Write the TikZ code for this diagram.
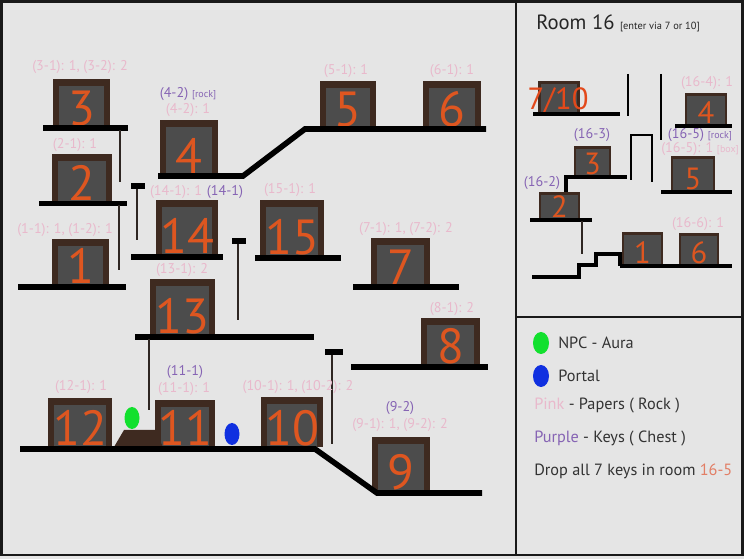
\documentclass[tikz,border=0pt]{standalone}
\usepackage{fontspec}
\setmainfont{PT Sans}
\definecolor{bgc}{HTML}{E5E5E5}
\definecolor{pinkc}{HTML}{E9B9CC}
\definecolor{purpc}{HTML}{8664B4}
\definecolor{orc}{HTML}{DE5620}
\definecolor{doorout}{HTML}{3E2A20}
\definecolor{doorin}{HTML}{4C4C4C}
\definecolor{polec}{HTML}{2E2622}
\definecolor{npcg}{HTML}{12E02E}
\definecolor{portb}{HTML}{1030E0}
\tikzset{
  plat/.style={line width=4.2pt,black,line join=miter},
  platthin/.style={line width=2.6pt,black,line join=miter},
  pole/.style={line width=2.2pt,polec},
  polecap/.style={line width=4pt,black},
  pk/.style={text=pinkc,font=\fontsize{10.6}{11}\selectfont,inner sep=0pt},
  pu/.style={text=purpc,font=\fontsize{10.6}{11}\selectfont,inner sep=0pt},
  txt/.style={text=black!80,font=\fontsize{12.2}{13}\selectfont,inner sep=0pt,anchor=west},
  num/.style={text=orc,inner sep=0pt,anchor=base},
}
\newcommand{\door}[7]{%
  \fill[doorout] (#2,#3) rectangle (#4,#5);
  \fill[doorin] (#2+6,#3+7) rectangle (#4-6,#5);
  \node[num,font=\fontsize{#7}{#7}\selectfont] (#1) at ({(#2+#4)/2},#5-1) {#6};
}
\newcommand{\sdoor}[7]{%
  \fill[doorout] (#2,#3) rectangle (#4,#5);
  \fill[doorin] (#2+2,#3+3) rectangle (#4-2,#5);
  \node[num,font=\fontsize{#7}{#7}\selectfont] (#1) at ({(#2+#4)/2},#5-1) {#6};
}
\begin{document}
\begin{tikzpicture}[x=0.75pt,y=-0.75pt]
\useasboundingbox (0,0) rectangle (744,559);
\fill[bgc] (0,0) rectangle (744,559);
% frame
\draw[line width=2.2pt,black!90] (1.5,1.5) rectangle (742.5,555);
\draw[line width=1.8pt,black!90] (516,0) -- (516,555);
\draw[line width=1.8pt,black!90] (516,317) -- (744,317);
% doors main
\door{d3}{53}{79}{110}{127}{3}{37}
\door{d2}{52}{154}{112}{202}{2}{37}
\door{d1}{52}{239}{109}{285}{1}{37}
\door{d4}{160}{120}{218}{175}{4}{37}
\door{d14}{156}{200}{218}{255}{14}{37}
\door{d5}{320}{81}{376}{128}{5}{37}
\door{d6}{423}{81}{481}{128}{6}{37}
\door{d15}{260}{200}{324}{256}{15}{37}
\door{d7}{371}{238}{430}{286}{7}{37}
\door{d13}{150}{279}{215}{335}{13}{37}
\door{d8}{421}{318}{480}{365}{8}{37}
\door{d12}{48}{398}{112}{447}{12}{37}
\door{d11}{155}{400}{215}{447}{11}{37}
\door{d10}{261}{397}{323}{447}{10}{37}
\door{d9}{372}{437}{430}{491}{9}{37}
% mound
\fill[doorout] (114,447) -- (124,430) -- (155,430) -- (163,447) -- cycle;
% platforms
\draw[plat] (43,128) -- (128,128);
\draw[plat] (39,203.5) -- (127,203.5);
\draw[plat] (18,287) -- (126,287);
\draw[plat] (158,176) -- (243,176) -- (305,129) -- (486,129);
\draw[plat] (131,257) -- (223,257);
\draw[plat] (255,258) -- (341,258);
\draw[plat] (353,287) -- (459,287);
\draw[plat] (135,337) -- (314,337);
\draw[plat] (351,367) -- (488,367);
\draw[plat] (20,449) -- (315,449) -- (377,493) -- (482,493);
% poles
\draw[pole] (120,130) -- (120,182);
\draw[pole] (119,205) -- (119,270);
\draw[pole] (137,186) -- (137,240);
\draw[polecap] (131,186) -- (145,186);
\draw[pole] (238,241) -- (238,320);
\draw[polecap] (232,241) -- (246,241);
\draw[pole] (149,339) -- (149,410);
\draw[pole] (332,352) -- (332,444);
\draw[polecap] (325,352) -- (343,352);
% NPC & portal
\fill[npcg] (132,418) ellipse [x radius=7.5,y radius=11];
\fill[portb] (232,434) ellipse [x radius=7.5,y radius=11];
% labels main
\node[pk] (l31) at (80,67) {(3-1): 1, (3-2): 2};
\node[pk] (l21) at (75,145) {(2-1): 1};
\node[pk] (l11) at (65,230) {(1-1): 1, (1-2): 1};
\node[pu] (l42) at (188,94) {(4-2) {\fontsize{7.5}{8}\selectfont [rock]}};
\node[pk] (l421) at (188,110) {(4-2): 1};
\node[pk] (l141) at (176,192) {(14-1): 1};
\node[pu] (l14) at (225,192) {(14-1)};
\node[pk] (l51) at (346,71) {(5-1): 1};
\node[pk] (l61) at (452,71) {(6-1): 1};
\node[pk] (l151) at (290,190) {(15-1): 1};
\node[pk] (l71) at (406,229) {(7-1): 1, (7-2): 2};
\node[pk] (l131) at (182,270) {(13-1): 2};
\node[pk] (l81) at (452,309) {(8-1): 2};
\node[pk] (l121) at (81,387) {(12-1): 1};
\node[pu] (l11p) at (185,372) {(11-1)};
\node[pk] (l111) at (184,389) {(11-1): 1};
\node[pk] (l101) at (298,387) {(10-1): 1, (10-2): 2};
\node[pu] (l92) at (400,408) {(9-2)};
\node[pk] (l91) at (400,425) {(9-1): 1, (9-2): 2};
% Room 16
\node[inner sep=0pt,anchor=base west,text=black!85] (r16) at (536,30) {\fontsize{15.5}{16}\selectfont Room 16 {\fontsize{7.8}{8}\selectfont [enter via 7 or 10]}};
\fill[doorin] (539,82) rectangle (579,113);
\draw[doorout,line width=1.6pt] (539.5,113) -- (539.5,82.5) -- (578.5,82.5) -- (578.5,113);
\sdoor{e4}{685}{93}{727}{125}{4}{23}
\sdoor{e3}{574}{146}{611}{176}{3}{23}
\sdoor{e5}{671}{156}{715}{191}{5}{23}
\sdoor{e2}{539}{192}{580}{219}{2}{23}
\sdoor{e1}{622}{232}{663}{265}{1}{23}
\sdoor{e6}{679}{233}{719}{265}{6}{23}
\node[text=orc!85!red,inner sep=0pt,font=\fontsize{23}{23}\selectfont] (e710) at (558,101) {7/10};
\draw[platthin] (533,114) -- (620,114);
\draw[platthin] (675,126) -- (732,126);
\draw[platthin] (566,192) -- (566,177) -- (627,177);
\draw[platthin] (661,192) -- (732,192);
\draw[platthin] (530,220) -- (592,220);
\draw[platthin] (620,266) -- (732,266);
\draw[platthin] (532,277) -- (579,277) -- (579,265) -- (596,265) -- (596,254) -- (620,254) -- (620,266);
\draw[platthin,line width=1.9pt] (631,180) -- (631,135) -- (652,135) -- (652,182);
\draw[platthin,line width=1.9pt] (628,74) -- (628,116);
\draw[platthin,line width=1.9pt] (661,74) -- (661,140);
\draw[pole,line width=1.9pt] (582,221) -- (582,254);
\node[pk] (f4) at (707,83) {(16-4): 1};
\node[pu] (f3) at (592,135) {(16-3)};
\node[pu] (f5) at (700,135) {(16-5) {\fontsize{7.5}{8}\selectfont [rock]}};
\node[pk] (f51) at (700,149) {(16-5): 1 {\fontsize{7.5}{8}\selectfont [box]}};
\node[pu] (f2) at (542,183) {(16-2)};
\node[pk] (f6) at (698,224) {(16-6): 1};
% legend
\fill[npcg] (541,343) ellipse [x radius=8,y radius=11];
\fill[portb] (541,376) ellipse [x radius=8,y radius=11];
\node[txt] (t1) at (558,343) {NPC - Aura};
\node[txt] (t2) at (558,376) {Portal};
\node[txt] (t3) at (534,406) {\textcolor{pinkc}{Pink} - Papers ( Rock )};
\node[txt] (t4) at (534,439) {\textcolor{purpc}{Purple} - Keys ( Chest )};
\node[txt] (t5) at (534,471) {Drop all 7 keys in room \textcolor{orc!60!pinkc}{16-5}};
\end{tikzpicture}
\end{document}
